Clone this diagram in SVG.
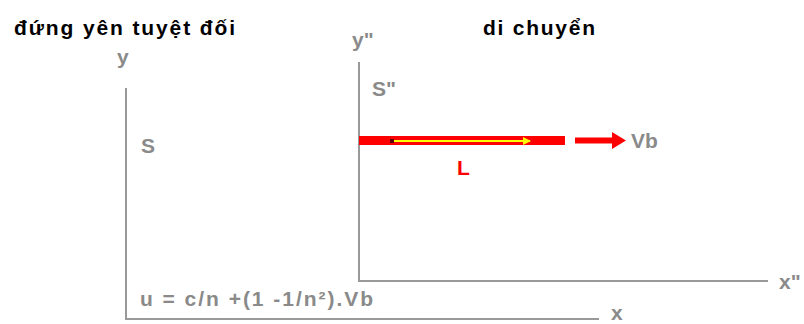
<svg xmlns="http://www.w3.org/2000/svg" width="804" height="324" viewBox="0 0 804 324">
<style>
.t{font-family:"Liberation Sans",Arial,sans-serif;font-weight:bold}
.blk{fill:#000;font-size:21px}
.g{fill:#8a8a8a;font-size:21px}
.ax{stroke:#999;stroke-width:2;fill:none}
</style>
<defs>
<marker id="ya" markerWidth="8" markerHeight="8" refX="7" refY="4" orient="auto" markerUnits="userSpaceOnUse">
<path d="M0,0 L8,4 L0,8 Z" fill="#ffff00"/>
</marker>
</defs>
<rect width="804" height="324" fill="#fff"/>
<g id="titles">
<text class="t blk" x="14" y="35" textLength="221" lengthAdjust="spacing">đứng yên tuyệt đối</text>
<text class="t blk" x="483" y="35" textLength="112" lengthAdjust="spacing">di chuyển</text>
</g>
<g id="frame-S">
<line class="ax" x1="126" y1="88" x2="126" y2="320"/>
<line class="ax" x1="126" y1="319" x2="599" y2="319"/>
<text class="t g" x="117" y="64">y</text>
<text class="t g" x="611" y="320" font-size="20px">x</text>
<text class="t g" x="141" y="153">S</text>
<text class="t g" x="140" y="306" font-size="20px" textLength="233" lengthAdjust="spacing">u  = c/n +(1 -1/n²).Vb</text>
</g>
<g id="frame-S2">
<line class="ax" x1="359" y1="62" x2="359" y2="282"/>
<line class="ax" x1="359" y1="281" x2="768" y2="281"/>
<text class="t g" x="352" y="47">y"</text>
<text class="t g" x="779" y="289">x"</text>
<text class="t g" x="372" y="96">S"</text>
</g>
<g id="rod">
<rect x="359" y="136" width="206" height="9" fill="#ff0000"/>
<rect x="390" y="139" width="4" height="4" fill="#600000"/>
<line x1="394" y1="141" x2="530" y2="141" stroke="#ffff00" stroke-width="2" marker-end="url(#ya)"/>
<text class="t" x="457" y="175" fill="#ff0000" font-size="21px">L</text>
</g>
<g id="connectors">
<line x1="575" y1="140.5" x2="614" y2="140.5" stroke="#ff0000" stroke-width="6"/>
<path d="M612,132 L626,140.5 L612,149 Z" fill="#ff0000"/>
<text class="t g" x="631" y="148">Vb</text>
</g>
</svg>
